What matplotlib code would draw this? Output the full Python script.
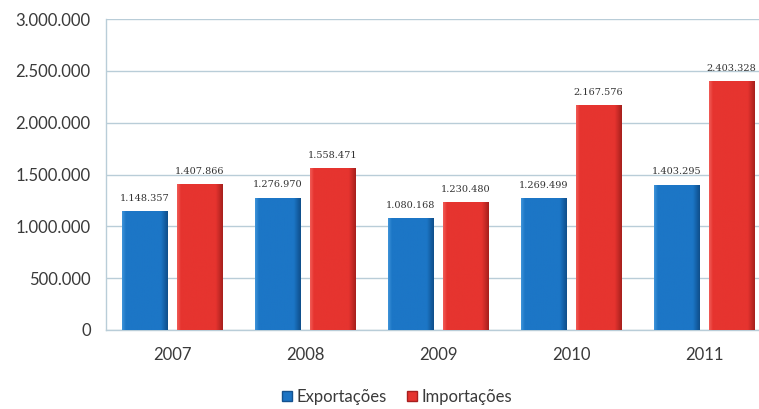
import matplotlib
matplotlib.use("Agg")
import matplotlib.pyplot as plt
from matplotlib.patches import Patch
from matplotlib.colors import to_rgb
import numpy as np

years = ["2007", "2008", "2009", "2010", "2011"]
exportacoes = [1148357, 1276970, 1080168, 1269499, 1403295]
importacoes = [1407866, 1558471, 1230480, 2167576, 2403328]
yticks = [0, 500000, 1000000, 1500000, 2000000, 2500000, 3000000]

def fmt(v):
    return f"{v:,}".replace(",", ".")

W, H = 759, 409
fig = plt.figure(figsize=(W / 100, H / 100), dpi=100)
ax = fig.add_axes([106 / W, (H - 330) / H, (W - 106) / W, (330 - 19) / H])

x = np.arange(len(years))
bw = 0.34
off = 0.207
blue = "#1c74c4"
red = "#e5332f"
b1 = ax.bar(x - off, exportacoes, bw, color=blue, edgecolor="#14528f", linewidth=0.6, zorder=3)
b2 = ax.bar(x + off, importacoes, bw, color=red, edgecolor="#a81f1f", linewidth=0.6, zorder=3)

def shade(bars, light, mid, dark):
    l, m, d = np.array(to_rgb(light)), np.array(to_rgb(mid)), np.array(to_rgb(dark))
    t = np.linspace(0, 1, 60)
    cols = []
    for tt in t:
        if tt < 0.08:
            c = l + (m - l) * (tt / 0.08)
        elif tt < 0.85:
            c = m
        else:
            c = m + (d - m) * ((tt - 0.85) / 0.15)
        cols.append(c)
    img = np.array(cols)[None, :, :]
    for r in bars:
        x0 = r.get_x()
        x1 = x0 + r.get_width()
        im = ax.imshow(img, extent=(x0, x1, 0, r.get_height()), aspect="auto",
                       zorder=3.5, interpolation="bilinear")
        im.set_clip_path(r)

shade(b1, "#3d92d8", "#1c76c6", "#0f4f8c")
shade(b2, "#f05a55", "#e6342f", "#a8201d")
ax.set_aspect("auto")

for bars, vals in ((b1, exportacoes), (b2, importacoes)):
    for r, v in zip(bars, vals):
        ax.annotate(fmt(v), (r.get_x() + r.get_width() / 2, v), xytext=(0, 6),
                    textcoords="offset points", ha="center", va="bottom",
                    fontsize=7, family="DejaVu Serif", color="#333333", zorder=4)

ax.set_ylim(0, 3000000)
ax.set_xlim(-0.496, 4.414)
ax.set_yticks(yticks)
ax.set_yticklabels([fmt(v) for v in yticks])
ax.set_xticks(x)
ax.set_xticklabels(years)
ax.tick_params(axis="both", length=0, labelsize=12, colors="#3a3a3a")
ax.tick_params(axis="y", pad=11)
ax.tick_params(axis="x", pad=12)
for lab in ax.get_xticklabels() + ax.get_yticklabels():
    lab.set_family("Lato")

grid_c = "#b9cdd8"
ax.yaxis.grid(True, color=grid_c, linewidth=1, zorder=0)
ax.set_axisbelow(True)
for s in ("top", "right"):
    ax.spines[s].set_visible(False)
for s in ("left", "bottom"):
    ax.spines[s].set_color(grid_c)
    ax.spines[s].set_linewidth(1)

handles = [Patch(facecolor=blue, edgecolor="#14528f"), Patch(facecolor=red, edgecolor="#a81f1f")]
fig.legend(handles, ["Exportações", "Importações"], loc="center",
           bbox_to_anchor=(397 / W, (H - 397) / H), ncol=2, frameon=False,
           handlelength=0.6, handleheight=0.6, handletextpad=0.3, columnspacing=1.2,
           prop={"family": "Lato", "size": 12}, labelcolor="#3a3a3a")

fig.savefig("out.png", dpi=100)
